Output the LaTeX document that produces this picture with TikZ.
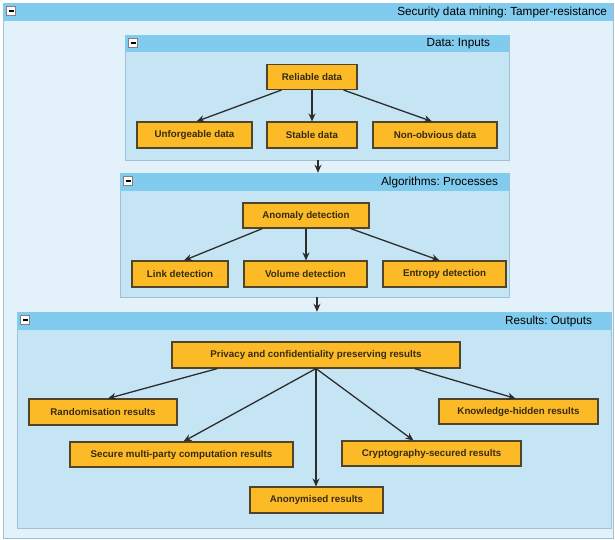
\documentclass[tikz,border=0pt]{standalone}
\usepackage{fontspec}
\setmainfont{Liberation Sans}
\usetikzlibrary{arrows.meta}
\frenchspacing

\definecolor{frameblue}{RGB}{226,241,250}
\definecolor{paneblue}{RGB}{198,229,244}
\definecolor{headblue}{RGB}{128,203,238}
\definecolor{paneedge}{RGB}{160,192,214}
\definecolor{boxorange}{RGB}{252,186,38}
\definecolor{boxedge}{RGB}{80,68,42}
\definecolor{inktext}{RGB}{55,44,18}
\definecolor{arrowgray}{RGB}{45,45,45}

\begin{document}
\begin{tikzpicture}[x=1bp,y=-1bp,
    panel/.style={draw=paneedge,fill=paneblue,inner sep=0pt},
    paneltitle/.style={anchor=east,inner sep=0pt,font=\fontsize{11.8}{13}\selectfont,text=black},
    item/.style={draw=boxedge,line width=1.1bp,fill=boxorange,inner sep=0pt,
        minimum height=25bp,font=\bfseries\fontsize{9.8}{11}\selectfont,text=inktext},
    link/.style={draw=arrowgray,line width=1.3bp,-{Stealth[length=8bp,width=7bp]}},
    btn/.style={draw=gray,fill=white,line width=0.8bp}]
    \useasboundingbox (0,0) rectangle (615,540);
    % frames
    \node[panel,fill=frameblue,minimum width=610bp,minimum height=535bp] (frame) at (308,270.5) {};
    \fill[headblue] (frame.north west) rectangle ([yshift=-18bp]frame.north east);
    \node[paneltitle] at ([xshift=-6bp,yshift=-10bp]frame.north east) {Security data mining: Tamper-resistance};
    \node[panel,minimum width=384bp,minimum height=125bp] (data) at (317,97.5) {};
    \fill[headblue] (data.north west) rectangle ([yshift=-17bp]data.north east);
    \node[paneltitle] at ([xshift=-19bp,yshift=-9bp]data.north east) {Data: Inputs};
    \node[panel,minimum width=389bp,minimum height=124bp] (algo) at (314.5,235) {};
    \fill[headblue] (algo.north west) rectangle ([yshift=-18bp]algo.north east);
    \node[paneltitle] at ([xshift=-11bp,yshift=-9.5bp]algo.north east) {Algorithms: Processes};
    \node[panel,minimum width=594bp,minimum height=216bp] (results) at (314,420) {};
    \fill[headblue] (results.north west) rectangle ([yshift=-18bp]results.north east);
    \node[paneltitle] at ([xshift=-19bp,yshift=-9.5bp]results.north east) {Results: Outputs};
    % collapse buttons
    \foreach \p in {frame,data,algo,results}{
        \draw[btn] (\p.north west) ++(4,3.5) rectangle ++(9,9);
        \draw[black,line width=1.6bp] (\p.north west) ++(6,8) -- ++(5,0);
    }
    % inputs
    \node[item,minimum width=90bp] (reliable) at (312,77) {Reliable data};
    \node[item,minimum width=115bp,minimum height=26bp] (unforgeable) at (194.5,135) {Unforgeable data};
    \node[item,minimum width=90bp,minimum height=26bp] (stable) at (312,135) {Stable data};
    \node[item,minimum width=124bp,minimum height=26bp] (nonobvious) at (435,135) {Non-obvious data};
    % processes
    \node[item,minimum width=126bp] (anomaly) at (306,215.5) {Anomaly detection};
    \node[item,minimum width=96bp,minimum height=26bp] (linkdet) at (180,274) {Link detection};
    \node[item,minimum width=123bp,minimum height=26bp] (volumedet) at (305.5,274) {Volume detection};
    \node[item,minimum width=123bp,minimum height=26bp] (entropydet) at (444.5,274) {Entropy detection};
    % outputs
    \node[item,minimum width=288bp,minimum height=26bp] (privacy) at (316,355) {Privacy and confidentiality preserving results};
    \node[item,minimum width=148bp,minimum height=26bp] (random) at (103,412) {Randomisation results};
    \node[item,minimum width=159bp] (knowledge) at (518.5,411.5) {Knowledge-hidden results};
    \node[item,minimum width=223bp] (secure) at (181.5,454.5) {Secure multi-party computation results};
    \node[item,minimum width=179bp] (crypto) at (431.5,453.5) {Cryptography-secured results};
    \node[item,minimum width=133bp,minimum height=26bp] (anon) at (316.5,500) {Anonymised results};
    % connectors
    \draw[link] ([xshift=15bp]reliable.south west) -- ([xshift=2bp]unforgeable.north);
    \draw[link] (reliable.south) -- (stable.north);
    \draw[link] ([xshift=-14bp]reliable.south east) -- ([xshift=-3bp]nonobvious.north);
    \draw[link] ([xshift=20bp]anomaly.south west) -- ([xshift=4bp]linkdet.north);
    \draw[link] (anomaly.south) -- (anomaly.south |- volumedet.north);
    \draw[link] ([xshift=-19bp]anomaly.south east) -- ([xshift=-5bp]entropydet.north);
    \draw[link] ([xshift=46bp]privacy.south west) -- ([xshift=5bp]random.north);
    \draw[link] (privacy.south) -- ([xshift=2bp]secure.north);
    \draw[link] (privacy.south) -- (privacy.south |- anon.north);
    \draw[link] (privacy.south) -- ([xshift=-18bp]crypto.north);
    \draw[link] ([xshift=-46bp]privacy.south east) -- ([xshift=-3bp]knowledge.north);
    \draw[link] ([xshift=1bp]data.south) -- ([xshift=1bp]data.south |- algo.north);
    \draw[link] ([xshift=2.5bp]algo.south) -- ([xshift=2.5bp]algo.south |- results.north);
\end{tikzpicture}
\end{document}
